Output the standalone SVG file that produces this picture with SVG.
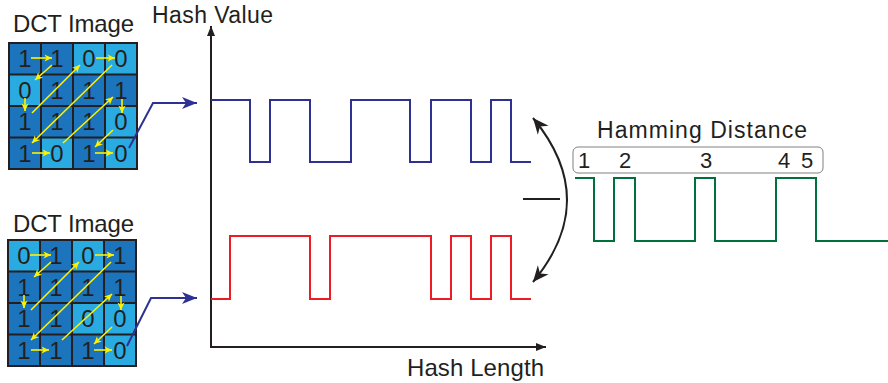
<svg xmlns="http://www.w3.org/2000/svg" width="888" height="383" viewBox="0 0 888 383">
  <style>
    .lbl { font-family: "Liberation Sans", Arial, sans-serif; fill: #231f20; }
    .dig { font-family: "Liberation Sans", Arial, sans-serif; font-size: 24px; fill: #231f20; text-anchor: middle; }
    .num { font-family: "Liberation Sans", Arial, sans-serif; font-size: 22px; fill: #231f20; text-anchor: middle; }
    .dk { fill: #1c75bc; }
    .lt { fill: #29abe2; }
    .gridline { fill: none; stroke: #231f20; stroke-width: 2; }
    .zz { fill: none; stroke: #fff200; stroke-width: 1.6; marker-end: url(#yHead); }
    .wire { fill: none; stroke: #2e3192; stroke-width: 2; marker-end: url(#bHead); }
    .axis { fill: none; stroke: #231f20; stroke-width: 2; marker-end: url(#aHead); }
    .wave { fill: none; stroke-width: 2; stroke-linejoin: miter; }
  </style>
  <defs>
    <marker id="yHead" viewBox="-8 -4 9 8" refX="0" refY="0" markerWidth="9" markerHeight="8" markerUnits="userSpaceOnUse" orient="auto">
      <path d="M0,0 L-7.5,-3.6 L-5.5,0 L-7.5,3.6 Z" fill="#fff200"/>
    </marker>
    <marker id="bHead" viewBox="-16 -7 17 14" refX="0" refY="0" markerWidth="17" markerHeight="14" markerUnits="userSpaceOnUse" orient="auto">
      <path d="M0,0 L-15,-6 L-11,0 L-15,6 Z" fill="#2e3192"/>
    </marker>
    <marker id="aHead" viewBox="-10 -5 11 10" refX="0" refY="0" markerWidth="11" markerHeight="10" markerUnits="userSpaceOnUse" orient="auto">
      <path d="M0,0 L-10,-4 L-10,4 Z" fill="#231f20"/>
    </marker>
    <marker id="kHead" viewBox="-17 -8 18 16" refX="0" refY="0" markerWidth="18" markerHeight="16" markerUnits="userSpaceOnUse" orient="auto-start-reverse">
      <path d="M0,0 L-16,-7 L-11,0 L-16,7 Z" fill="#231f20"/>
    </marker>
    <!-- zig-zag scan path over a 4x4 block (cell pitch 32 x 31.5) -->
    <g id="zigzag">
      <line class="zz" x1="31" y1="58" x2="52" y2="58"/>
      <line class="zz" x1="52" y1="65" x2="35" y2="80"/>
      <line class="zz" x1="25" y1="98" x2="25" y2="111"/>
      <line class="zz" x1="32" y1="113" x2="80" y2="65"/>
      <line class="zz" x1="96" y1="58" x2="115" y2="58"/>
      <line class="zz" x1="112" y1="65" x2="32" y2="143"/>
      <line class="zz" x1="32" y1="153" x2="50" y2="153"/>
      <line class="zz" x1="63" y1="143" x2="113" y2="97"/>
      <line class="zz" x1="122" y1="99" x2="122" y2="113"/>
      <line class="zz" x1="113" y1="130" x2="95" y2="147"/>
      <line class="zz" x1="95" y1="153" x2="113" y2="153"/>
    </g>
    <path id="grid" class="gridline" d="M9,43 H137 V169 H9 Z M41,43 V169 M73,43 V169 M105,43 V169 M9,74.5 H137 M9,106 H137 M9,137.5 H137"/>
  </defs>

  <!-- first DCT block -->
  <g id="dct-top">
    <text class="lbl" x="13" y="32" font-size="24" textLength="121">DCT Image</text>
    <rect class="dk" x="9" y="43" width="32" height="31.5"/>
    <rect class="dk" x="41" y="43" width="32" height="31.5"/>
    <rect class="lt" x="73" y="43" width="32" height="31.5"/>
    <rect class="lt" x="105" y="43" width="32" height="31.5"/>
    <rect class="lt" x="9" y="74.5" width="32" height="31.5"/>
    <rect class="dk" x="41" y="74.5" width="32" height="31.5"/>
    <rect class="dk" x="73" y="74.5" width="32" height="31.5"/>
    <rect class="dk" x="105" y="74.5" width="32" height="31.5"/>
    <rect class="dk" x="9" y="106" width="32" height="31.5"/>
    <rect class="dk" x="41" y="106" width="32" height="31.5"/>
    <rect class="dk" x="73" y="106" width="32" height="31.5"/>
    <rect class="lt" x="105" y="106" width="32" height="31.5"/>
    <rect class="dk" x="9" y="137.5" width="32" height="31.5"/>
    <rect class="lt" x="41" y="137.5" width="32" height="31.5"/>
    <rect class="dk" x="73" y="137.5" width="32" height="31.5"/>
    <rect class="lt" x="105" y="137.5" width="32" height="31.5"/>
    <use href="#grid"/>
    <text class="dig" x="25" y="67">1</text><text class="dig" x="57" y="67">1</text><text class="dig" x="89" y="67">0</text><text class="dig" x="121" y="67">0</text>
    <text class="dig" x="25" y="98.5">0</text><text class="dig" x="57" y="98.5">1</text><text class="dig" x="89" y="98.5">1</text><text class="dig" x="121" y="98.5">1</text>
    <text class="dig" x="25" y="130">1</text><text class="dig" x="57" y="130">1</text><text class="dig" x="89" y="130">1</text><text class="dig" x="121" y="130">0</text>
    <text class="dig" x="25" y="161.5">1</text><text class="dig" x="57" y="161.5">0</text><text class="dig" x="89" y="161.5">1</text><text class="dig" x="121" y="161.5">0</text>
    <use href="#zigzag"/>
  </g>

  <!-- second DCT block -->
  <g id="dct-bottom" transform="translate(-1,197)">
    <text class="lbl" x="14" y="35" font-size="24" textLength="121">DCT Image</text>
    <rect class="lt" x="9" y="43" width="32" height="31.5"/>
    <rect class="dk" x="41" y="43" width="32" height="31.5"/>
    <rect class="lt" x="73" y="43" width="32" height="31.5"/>
    <rect class="dk" x="105" y="43" width="32" height="31.5"/>
    <rect class="dk" x="9" y="74.5" width="32" height="31.5"/>
    <rect class="dk" x="41" y="74.5" width="32" height="31.5"/>
    <rect class="dk" x="73" y="74.5" width="32" height="31.5"/>
    <rect class="dk" x="105" y="74.5" width="32" height="31.5"/>
    <rect class="dk" x="9" y="106" width="32" height="31.5"/>
    <rect class="dk" x="41" y="106" width="32" height="31.5"/>
    <rect class="lt" x="73" y="106" width="32" height="31.5"/>
    <rect class="lt" x="105" y="106" width="32" height="31.5"/>
    <rect class="dk" x="9" y="137.5" width="32" height="31.5"/>
    <rect class="dk" x="41" y="137.5" width="32" height="31.5"/>
    <rect class="dk" x="73" y="137.5" width="32" height="31.5"/>
    <rect class="lt" x="105" y="137.5" width="32" height="31.5"/>
    <use href="#grid"/>
    <text class="dig" x="25" y="67">0</text><text class="dig" x="57" y="67">1</text><text class="dig" x="89" y="67">0</text><text class="dig" x="121" y="67">1</text>
    <text class="dig" x="25" y="98.5">1</text><text class="dig" x="57" y="98.5">1</text><text class="dig" x="89" y="98.5">1</text><text class="dig" x="121" y="98.5">1</text>
    <text class="dig" x="25" y="130">1</text><text class="dig" x="57" y="130">1</text><text class="dig" x="89" y="130">0</text><text class="dig" x="121" y="130">0</text>
    <text class="dig" x="25" y="161.5">1</text><text class="dig" x="57" y="161.5">1</text><text class="dig" x="89" y="161.5">1</text><text class="dig" x="121" y="161.5">0</text>
    <use href="#zigzag"/>
  </g>

  <!-- hash plot axes -->
  <g id="plot-axes">
    <line class="axis" x1="211" y1="348" x2="211" y2="26"/>
    <line class="axis" x1="210" y1="347" x2="546" y2="347"/>
    <text class="lbl" x="152" y="23" font-size="23" textLength="121">Hash Value</text>
    <text class="lbl" x="407" y="376" font-size="24" textLength="137">Hash Length</text>
  </g>

  <!-- hash waveforms -->
  <g id="hash-top">
    <path class="wave" stroke="#2e3192" d="M211,100 H250 V162 H270 V100 H310 V162 H351 V100 H410 V162 H431 V100 H471 V162 H491 V100 H511 V162 H531"/>
  </g>
  <g id="hash-bottom">
    <path class="wave" stroke="#ed1c24" d="M211,299 H230 V236 H310 V299 H330 V236 H431 V299 H451 V236 H471 V299 H491 V236 H511 V299 H531"/>
  </g>

  <!-- XOR result -->
  <g id="hamming">
    <text class="lbl" x="597" y="138" font-size="23" textLength="210">Hamming Distance</text>
    <rect x="573" y="147" width="250" height="26" rx="5" ry="5" fill="none" stroke="#808080" stroke-width="1"/>
    <text class="num" x="584" y="168">1</text>
    <text class="num" x="625" y="168">2</text>
    <text class="num" x="706" y="168">3</text>
    <text class="num" x="784" y="168">4</text>
    <text class="num" x="807" y="168">5</text>
    <path class="wave" stroke="#00703c" d="M575,178 H594 V241 H614 V178 H635 V241 H695 V178 H715 V241 H776 V178 H816 V241 H888"/>
  </g>

  <!-- connectors -->
  <g id="connectors">
    <path class="wire" d="M129,148 L153,103 H197"/>
    <path class="wire" d="M127,346 L151,298 H197"/>
    <line x1="523" y1="199" x2="560" y2="199" stroke="#231f20" stroke-width="2"/>
    <path d="M533,118 Q601,200 533,282" fill="none" stroke="#231f20" stroke-width="2" marker-start="url(#kHead)" marker-end="url(#kHead)"/>
  </g>
</svg>
